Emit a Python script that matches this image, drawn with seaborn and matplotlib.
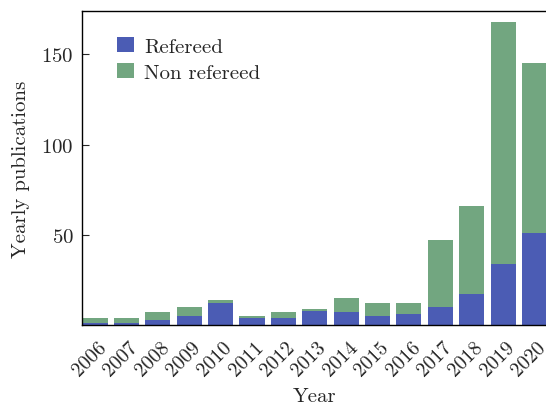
import matplotlib
matplotlib.use("Agg")
import matplotlib.pyplot as plt
import matplotlib.transforms as mtransforms
import seaborn as sns
import pandas as pd

years = ["2006", "2007", "2008", "2009", "2010", "2011", "2012", "2013",
         "2014", "2015", "2016", "2017", "2018", "2019", "2020"]
refereed = [1, 1, 3, 5, 12, 4, 4, 8, 7, 5, 6, 10, 17, 34, 51]
non_refereed = [3, 3, 4, 5, 2, 1, 3, 1, 8, 7, 6, 37, 49, 134, 94]

df = pd.DataFrame({"Year": years, "Refereed": refereed, "Non refereed": non_refereed})
df["Total"] = df["Refereed"] + df["Non refereed"]

sns.set_style("ticks")
plt.rcParams["font.family"] = ["cmr10", "DejaVu Serif"]
plt.rcParams["mathtext.fontset"] = "cm"
plt.rcParams["axes.formatter.use_mathtext"] = True
plt.rcParams["axes.unicode_minus"] = False

blue = "#4b5cb4"
green = "#72a680"
fs = 15

fig = plt.figure(figsize=(5.46, 4.06), dpi=100)
ax = fig.add_axes([0.150, 0.197, 0.853, 0.773])

sns.barplot(data=df, x="Year", y="Total", color=green, width=0.8,
            saturation=1, ax=ax, label="Non refereed", linewidth=0)
sns.barplot(data=df, x="Year", y="Refereed", color=blue, width=0.8,
            saturation=1, ax=ax, label="Refereed", linewidth=0)

ax.set_xlim(-0.42, 14.42)
ax.set_ylim(0, 174)
ax.set_yticks([50, 100, 150])
ax.set_xlabel("Year", fontsize=fs, labelpad=6)
ax.set_ylabel("Yearly publications", fontsize=fs, labelpad=8)
ax.tick_params(axis="y", labelsize=fs, length=5, width=0.8, direction="in", pad=6)
ax.tick_params(axis="x", labelsize=14.5, length=0, pad=9)
offset = mtransforms.ScaledTranslation(15 / 100, 0, fig.dpi_scale_trans)
for lab in ax.get_xticklabels():
    lab.set_rotation(45)
    lab.set_ha("right")
    lab.set_transform(lab.get_transform() + offset)

for s in ["top", "left", "bottom", "right"]:
    ax.spines[s].set_visible(True)
    ax.spines[s].set_linewidth(1.0)
    ax.spines[s].set_color("black")

handles, labels = ax.get_legend_handles_labels()
order = [labels.index("Refereed"), labels.index("Non refereed")]
ax.legend([handles[i] for i in order], [labels[i] for i in order],
          loc="upper left", frameon=False, fontsize=fs,
          handlelength=0.8, handleheight=0.7, handletextpad=0.5,
          bbox_to_anchor=(0.035, 0.977), labelspacing=0.35)

fig.savefig("out.png", dpi=100)
